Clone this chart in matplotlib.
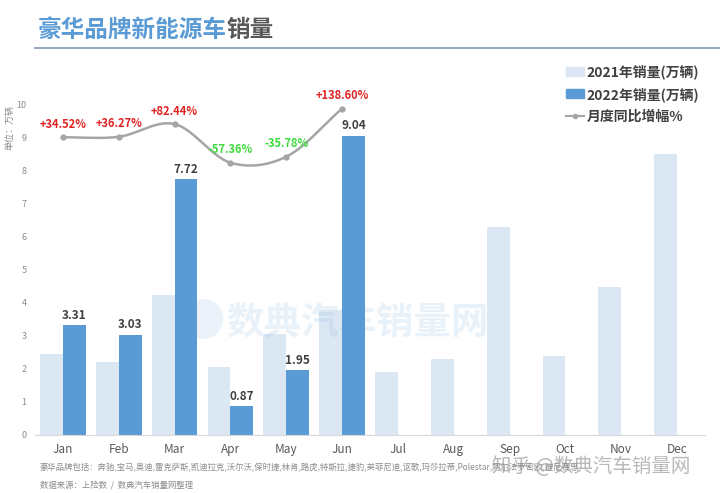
import numpy as np
import matplotlib.pyplot as plt
from matplotlib.patches import Patch
from matplotlib.lines import Line2D

plt.rcParams['font.family'] = ['Noto Sans CJK SC', 'DejaVu Sans']

months = ["Jan", "Feb", "Mar", "Apr", "May", "Jun",
          "Jul", "Aug", "Sep", "Oct", "Nov", "Dec"]
sales_2021 = [2.46, 2.22, 4.23, 2.04, 3.04, 3.79,
              1.90, 2.30, 6.27, 2.38, 4.46, 8.49]
sales_2022 = [3.31, 3.03, 7.72, 0.87, 1.95, 9.04]
growth = [34.52, 36.27, 82.44, -57.36, -35.78, 138.60]
growth_labels = ["+34.52%", "+36.27%", "+82.44%", "-57.36%", "-35.78%", "+138.60%"]

C21 = "#DCE7F4"
C22 = "#5B9BD5"
CLINE = "#A5A5A5"


def catmull_rom(x, y, n=30):
    # smooth curve through the points, like Excel's "smoothed line"
    x = np.asarray(x, float)
    y = np.asarray(y, float)
    px = np.concatenate([[2 * x[0] - x[1]], x, [2 * x[-1] - x[-2]]])
    py = np.concatenate([[2 * y[0] - y[1]], y, [2 * y[-1] - y[-2]]])
    xs, ys = [], []
    t = np.linspace(0, 1, n)
    for i in range(1, len(px) - 2):
        for p, out in ((px, xs), (py, ys)):
            p0, p1, p2, p3 = p[i - 1], p[i], p[i + 1], p[i + 2]
            out.append(0.5 * (2 * p1 + (-p0 + p2) * t
                              + (2 * p0 - 5 * p1 + 4 * p2 - p3) * t ** 2
                              + (-p0 + 3 * p1 - 3 * p2 + p3) * t ** 3))
    return np.concatenate(xs), np.concatenate(ys)


fig = plt.figure(figsize=(7.2, 4.93), dpi=100)
ax = fig.add_axes([35 / 720, 1 - 435 / 493, 670 / 720, 331 / 493])

x = np.arange(len(months))
w = 0.41
ax.bar(x - w / 2, sales_2021, w, color=C21, zorder=2)
x22 = x[:len(sales_2022)]
ax.bar(x22 + w / 2, sales_2022, w, color=C22, zorder=2)
for xi, v in zip(x22, sales_2022):
    ax.annotate(f"{v:.2f}", (xi + w / 2, v), xytext=(0, 10), textcoords="offset pixels",
                ha="center", va="center", fontsize=8.5, fontweight="bold", color="#404040")

ax.set_xlim(-0.5, 11.5)
ax.set_ylim(0, 10)
ax.set_yticks(range(0, 11))
ax.set_xticks(x)
ax.set_xticklabels(months)
ax.tick_params(axis="y", length=0, labelsize=6.5, labelcolor="#8C8C8C", pad=6)
ax.tick_params(axis="x", length=0, labelsize=8.5, labelcolor="#595959", pad=6)
for s in ("top", "right", "left"):
    ax.spines[s].set_visible(False)
ax.spines["bottom"].set_color("#D9D9D9")

# growth line on a hidden secondary axis
ax2 = ax.twinx()
ax2.set_ylim(-1043, 155)
ax2.axis("off")
sx, sy = catmull_rom(x22, growth)
ax2.plot(sx, sy, color=CLINE, lw=1.8, zorder=3)
ax2.plot(x22, growth, "o", color=CLINE, ms=3.5, zorder=4)
for xi, g, lab in zip(x22, growth, growth_labels):
    col = "#E02222" if g > 0 else "#3CDC3C"
    ax2.annotate(lab, (xi, g), xytext=(0, 13), textcoords="offset pixels",
                 ha="center", va="center", fontsize=8, fontweight="bold", color=col)

# title
fig.text(38 / 720, 1 - 30 / 493, "豪华品牌新能源车", fontsize=17, fontweight="bold",
         color=C22, va="center", ha="left")
fig.text(227 / 720, 1 - 30 / 493, "销量", fontsize=17, fontweight="bold",
         color="#595959", va="center", ha="left")
fig.add_artist(Line2D([35 / 720, 1], [1 - 48 / 493] * 2, color="#8497B0", lw=1.2))

fig.text(10 / 720, 1 - 128 / 493, "单位：万辆", rotation=90, fontsize=6.5,
         color="#8C8C8C", ha="center", va="center")

handles = [Patch(color=C21), Patch(color=C22),
           Line2D([], [], color=CLINE, marker="o", ms=3, lw=1.5)]
labels = ["2021年销量(万辆)", "2022年销量(万辆)", "月度同比增幅%"]
fig.legend(handles, labels, loc="upper left", bbox_to_anchor=(553 / 720, 1 - 52 / 493),
           frameon=False, prop={"size": 10, "weight": "bold"}, labelcolor="#404040",
           handlelength=1.3, handleheight=0.6, handletextpad=0.2, labelspacing=0.55)

# watermark
fig.text(203 / 720, 1 - 323 / 493, "●", fontsize=32, color="#5B9BD5", alpha=0.12,
         ha="center", va="center")
fig.text(226 / 720, 1 - 323 / 493, "数典汽车销量网", fontsize=27, fontweight="bold",
         color="#5B9BD5", alpha=0.13, ha="left", va="center")
fig.text(492 / 720, 1 - 466 / 493, "知乎 @数典汽车销量网", fontsize=14,
         color="#9A9A9A", alpha=0.7, ha="left", va="center")

# footnotes
fig.text(40 / 720, 1 - 468 / 493,
         "豪华品牌包括：奔驰,宝马,奥迪,雷克萨斯,凯迪拉克,沃尔沃,保时捷,林肯,路虎,特斯拉,捷豹,英菲尼迪,讴歌,玛莎拉蒂,Polestar,阿尔法罗密欧,捷尼赛思",
         fontsize=6, color="#8C8C8C", ha="left", va="center")
fig.text(40 / 720, 1 - 485 / 493, "数据来源：上险数  /  数典汽车销量网整理",
         fontsize=6, color="#8C8C8C", ha="left", va="center")

fig.savefig("out.png", dpi=100)
